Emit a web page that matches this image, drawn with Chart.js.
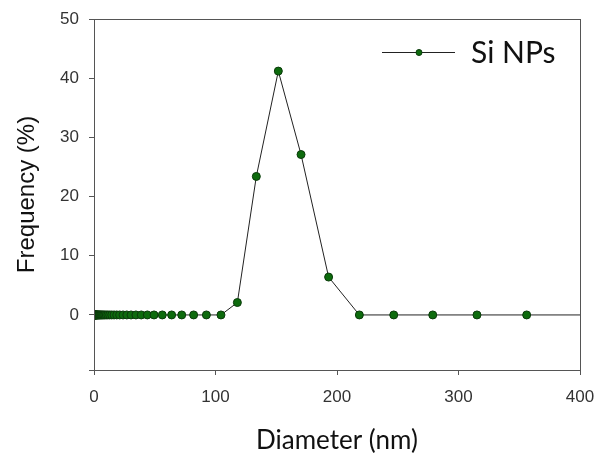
<!DOCTYPE html>
<html>
<head>
<meta charset="utf-8">
<script src="https://cdn.jsdelivr.net/npm/chart.js@4.4.1/dist/chart.umd.min.js"></script>
<style>
  body { margin: 0; background: #fff; }
  #wrap { width: 600px; height: 460px; }
</style>
</head>
<body>
<div id="wrap"><canvas id="sizeChart"></canvas></div>
<script>
// particle size distribution
const diameter = [
  0.4, 0.46, 0.52, 0.59, 0.67, 0.76, 0.86, 0.97, 1.1, 1.25,
  1.4, 1.6, 1.8, 2.05, 2.3, 2.6, 2.95, 3.35, 3.8, 4.3,
  4.85, 5.5, 6.2, 7.0, 7.9, 8.9, 10.1, 11.4, 12.9, 14.6,
  16.5, 18.7, 21.1, 23.9, 27.0, 30.5, 34.5, 38.9, 43.9, 49.4,
  56.2, 63.9, 72.2, 82.0, 92.5, 104.5, 118, 133.6, 151.7, 170.4,
  193.1, 218.4, 246.7, 278.8, 315.2, 356.1, 405
];
const frequency = [
  0, 0, 0, 0, 0, 0, 0, 0, 0, 0,
  0, 0, 0, 0, 0, 0, 0, 0, 0, 0,
  0, 0, 0, 0, 0, 0, 0, 0, 0, 0,
  0, 0, 0, 0, 0, 0, 0, 0, 0, 0,
  0, 0, 0, 0, 0, 0, 2.1, 23.4, 41.2, 27.1,
  6.4, 0, 0, 0, 0, 0, 0
];
const seriesName = "Si NPs";
const xTicks = [0, 100, 200, 300, 400];
const yTicks = [-9.3, 0, 10, 20, 30, 40, 50];

const axisColor = "#555";
const tickFont = { family: "Liberation Sans, Arial", size: 17 };

const boxPlugin = {
  id: "box",
  afterDraw(chart) {
    const a = chart.chartArea;
    const ctx = chart.ctx;
    ctx.save();
    ctx.strokeStyle = axisColor;
    ctx.lineWidth = 1;
    ctx.strokeRect(a.left + 0.5, a.top + 0.5, a.right - a.left, a.bottom - a.top);
    ctx.restore();
  }
};

// line + marker legend in the top right corner
const legendPlugin = {
  id: "lineLegend",
  afterDraw(chart) {
    const ds = chart.data.datasets[0];
    const ctx = chart.ctx;
    const y = 52;
    ctx.save();
    ctx.strokeStyle = ds.borderColor;
    ctx.lineWidth = 1;
    ctx.beginPath();
    ctx.moveTo(382, y + 0.5);
    ctx.lineTo(455, y + 0.5);
    ctx.stroke();
    ctx.fillStyle = ds.pointBackgroundColor;
    ctx.strokeStyle = ds.pointBorderColor;
    ctx.beginPath();
    ctx.arc(419, y + 0.5, 3, 0, Math.PI * 2);
    ctx.fill();
    ctx.stroke();
    ctx.fillStyle = "#111";
    ctx.font = "30px Lato";
    ctx.textBaseline = "middle";
    ctx.fillText(ds.label, 471, y + 1);
    ctx.restore();
  }
};

new Chart(document.getElementById("sizeChart"), {
  type: "scatter",
  data: {
    datasets: [{
      label: seriesName,
      data: diameter.map((d, i) => ({ x: d, y: frequency[i] })),
      showLine: true,
      borderColor: "#222",
      borderWidth: 1,
      pointRadius: 4,
      pointBackgroundColor: "#0d6b0d",
      pointBorderColor: "#0a3a0a",
      pointBorderWidth: 1
    }]
  },
  options: {
    responsive: true,
    maintainAspectRatio: false,
    animation: false,
    layout: { padding: { left: 13, top: 19, right: 20, bottom: 0 } },
    plugins: { legend: { display: false }, tooltip: { enabled: false } },
    scales: {
      x: {
        type: "linear",
        min: 0,
        max: 400,
        afterBuildTicks: axis => { axis.ticks = xTicks.map(v => ({ value: v })); },
        afterFit: axis => {
          axis.height = 90;
          axis.paddingLeft = 0;
          axis.paddingRight = 0;
        },
        grid: { drawOnChartArea: false, drawTicks: true, tickLength: 5, color: axisColor },
        border: { display: true, color: axisColor },
        ticks: { color: "#333", font: tickFont, padding: 12, maxRotation: 0 },
        title: {
          display: true,
          text: "Diameter (nm)",
          color: "#111",
          font: { family: "Lato", size: 26 },
          padding: { top: 8, bottom: 4 }
        }
      },
      y: {
        min: -9.3,
        max: 50,
        afterBuildTicks: axis => { axis.ticks = yTicks.map(v => ({ value: v })); },
        afterFit: axis => {
          axis.width = 81;
          axis.paddingTop = 0;
          axis.paddingBottom = 0;
        },
        grid: { drawOnChartArea: false, drawTicks: true, tickLength: 5, color: axisColor },
        border: { display: true, color: axisColor },
        ticks: {
          color: "#333",
          font: tickFont,
          padding: 10,
          callback: v => (v < 0 ? "" : v)
        },
        title: {
          display: true,
          text: "Frequency (%)",
          color: "#111",
          font: { family: "Liberation Sans, Arial", size: 24 },
          padding: { top: 0, bottom: 0 }
        }
      }
    }
  },
  plugins: [boxPlugin, legendPlugin]
});
</script>
</body>
</html>
